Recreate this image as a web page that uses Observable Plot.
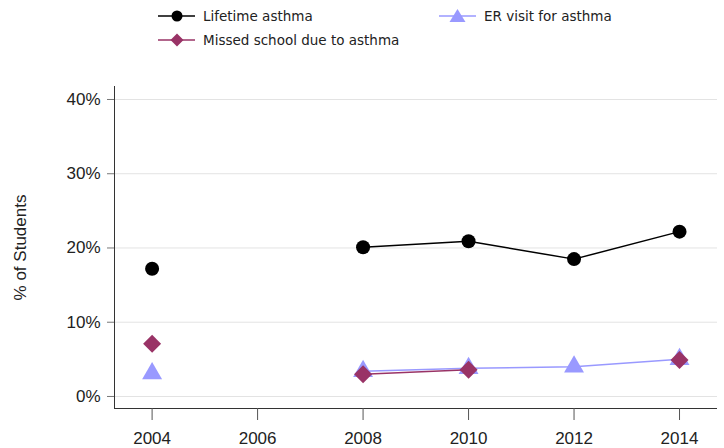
<!DOCTYPE html>
<html>
<head>
<meta charset="utf-8">
<script src="https://cdn.jsdelivr.net/npm/d3@7"></script>
<script src="https://cdn.jsdelivr.net/npm/@observablehq/plot@0.6"></script>
<style>
  html, body { margin: 0; padding: 0; background: #fff; }
  #wrap { position: relative; width: 724px; height: 448px; }
  #legend { position: absolute; left: 0; top: 0; width: 724px; height: 60px; font-family: "DejaVu Sans", Verdana, sans-serif; font-size: 13.5px; color: #222; }
  .item { position: absolute; display: flex; align-items: center; height: 20px; }
  .item svg { margin-right: 8px; }
</style>
</head>
<body>
<div id="wrap"><div id="legend"></div></div>
<script>
const years = [2004, 2006, 2008, 2010, 2012, 2014];
const lifetime = [17.2, null, 20.1, 20.9, 18.5, 22.2];
const missed = [7.1, null, 3.0, 3.6, null, 4.9];
const er = [3.1, null, 3.4, 3.8, 4.0, 5.0];
const yTicks = [0, 10, 20, 30, 40];
const xTicks = [2004, 2006, 2008, 2010, 2012, 2014];
const yLabel = "% of Students";
const seriesNames = ["Lifetime asthma", "Missed school due to asthma", "ER visit for asthma"];
const colors = ["#000000", "#993366", "#9999ff"];

const toRows = (vals) => years.map((y, i) => ({year: y, value: vals[i] == null ? NaN : vals[i]}));
const lifeRows = toRows(lifetime);
const missedRows = toRows(missed);
const erRows = toRows(er);

const xDomain = [2003.287, 2014.72];
const yDomain = [-1.62, 41.75];
const font = "'Liberation Sans', Arial, sans-serif";

const chart = Plot.plot({
  width: 724,
  height: 448,
  marginLeft: 114,
  marginRight: 7,
  marginTop: 86,
  marginBottom: 40,
  style: {color: "#222", background: "#fff", fontFamily: font, fontSize: "17px"},
  x: {domain: xDomain},
  y: {domain: yDomain},
  marks: [
    Plot.gridY(yTicks, {stroke: "#e3e3e3", strokeOpacity: 1, strokeWidth: 1}),
    Plot.ruleX([xDomain[0]], {stroke: "#333", strokeWidth: 1}),
    Plot.ruleY([yDomain[0]], {stroke: "#333", strokeWidth: 1}),
    Plot.axisY(yTicks, {tickSize: 7, tickPadding: 7, stroke: "#777", tickFormat: d => d + "%", label: null, fontFamily: font, fontSize: 17}),
    Plot.axisX(xTicks, {tickSize: 12, tickPadding: 11, stroke: "#555", tickFormat: d => String(d), label: null, fontFamily: font, fontSize: 17}),
    Plot.text([yLabel], {text: d => d, frameAnchor: "left", dx: -94, rotate: -90, textAnchor: "middle", lineAnchor: "middle", fill: "#222", fontFamily: font, fontSize: 17}),
    // ER visit
    Plot.line(erRows, {x: "year", y: "value", stroke: colors[2], strokeWidth: 1.5}),
    Plot.dot(erRows.filter(d => !isNaN(d.value)), {x: "year", y: "value", symbol: "triangle", r: 7.4, fill: colors[2], stroke: "none"}),
    // Missed school
    Plot.line(missedRows, {x: "year", y: "value", stroke: colors[1], strokeWidth: 1.5}),
    Plot.dot(missedRows.filter(d => !isNaN(d.value)), {x: "year", y: "value", symbol: "diamond2", r: 8.1, fill: colors[1], stroke: "none"}),
    // Lifetime
    Plot.line(lifeRows, {x: "year", y: "value", stroke: colors[0], strokeWidth: 1.5}),
    Plot.dot(lifeRows.filter(d => !isNaN(d.value)), {x: "year", y: "value", symbol: "circle", r: 7, fill: colors[0], stroke: "none"})
  ]
});
document.getElementById("wrap").appendChild(chart);

// Legend
const legend = document.getElementById("legend");
const legendItems = [
  {name: seriesNames[0], color: colors[0], sym: "circle", left: 158, top: 6},
  {name: seriesNames[2], color: colors[2], sym: "triangle", left: 439, top: 6},
  {name: seriesNames[1], color: colors[1], sym: "diamond", left: 158, top: 30}
];
for (const it of legendItems) {
  const div = document.createElement("div");
  div.className = "item";
  div.style.left = it.left + "px";
  div.style.top = it.top + "px";
  let marker = "";
  if (it.sym === "circle") marker = `<circle cx="19" cy="10" r="5.5" fill="${it.color}"/>`;
  else if (it.sym === "diamond") marker = `<path d="M19,3.5 L25.5,10 L19,16.5 L12.5,10 Z" fill="${it.color}"/>`;
  else marker = `<path d="M18.5,3 L26.5,16 L10.5,16 Z" fill="${it.color}"/>`;
  div.innerHTML = `<svg width="37" height="20"><line x1="0" x2="37" y1="10" y2="10" stroke="${it.color}" stroke-width="1.5"/>${marker}</svg><span>${it.name}</span>`;
  legend.appendChild(div);
}
</script>
</body>
</html>
